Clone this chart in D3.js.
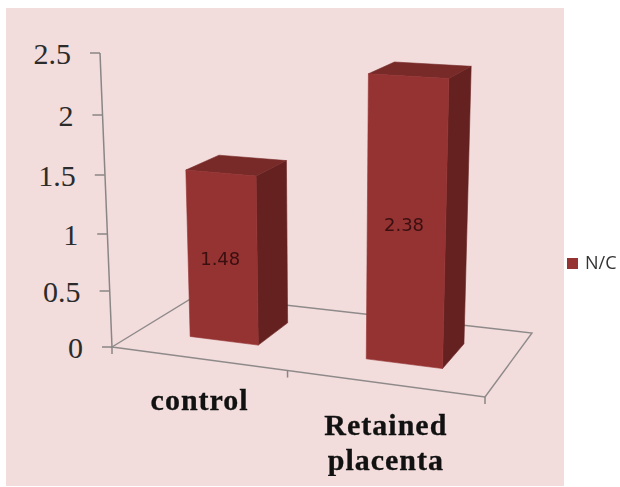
<!DOCTYPE html>
<html>
<head>
<meta charset="utf-8">
<script src="https://cdn.jsdelivr.net/npm/d3@7"></script>
<style>
  html, body { margin: 0; padding: 0; background: #fff; }
  svg { display: block; filter: blur(0.35px); }
  .floor { fill: none; stroke: #8f8a8a; stroke-width: 1.4; }
  .tick line, .axis-line { stroke: #8a8686; stroke-width: 1.5; }
</style>
</head>
<body>
<div id="chart"></div>
<script>
const categories = ["control", "Retained placenta"];
const values = [1.48, 2.38];
const yTicks = [0, 0.5, 1, 1.5, 2, 2.5];
const seriesName = "N/C";

const width = 620, height = 487;

const svg = d3.select("#chart").append("svg")
    .attr("width", width)
    .attr("height", height);

// pink panel behind the plot
svg.append("rect")
    .attr("x", 6).attr("y", 8)
    .attr("width", 558).attr("height", 478)
    .attr("fill", "#f2dcdc");

// value axis is foreshortened, so the ticks are not evenly spaced
const y = d3.scaleLinear().domain(yTicks).range([347, 291, 234, 175, 115, 53]);
const axisX = d3.scaleLinear().domain([0, 2.5]).range([112, 100]);

// category position along the floor (0..1)
const x = d3.scaleBand().domain(categories).range([0.004, 1.004])
    .paddingInner(0.6).paddingOuter(0.3);
const depth = d3.scaleLinear().domain([0, 1]).range([0.3, 0.7]); // bar depth on the floor

// floor plane: unit square to screen (fitted to the 4 floor corners)
const corners = [[112, 347], [485, 397], [532, 333], [197, 295]];
const floorMap = (function(p) {
    const sx = p[0][0] - p[1][0] + p[2][0] - p[3][0];
    const sy = p[0][1] - p[1][1] + p[2][1] - p[3][1];
    const dx1 = p[1][0] - p[2][0], dx2 = p[3][0] - p[2][0];
    const dy1 = p[1][1] - p[2][1], dy2 = p[3][1] - p[2][1];
    const den = dx1 * dy2 - dx2 * dy1;
    const g = (sx * dy2 - dx2 * sy) / den;
    const h = (dx1 * sy - sx * dy1) / den;
    const a = p[1][0] - p[0][0] + g * p[1][0];
    const b = p[3][0] - p[0][0] + h * p[3][0];
    const d = p[1][1] - p[0][1] + g * p[1][1];
    const e = p[3][1] - p[0][1] + h * p[3][1];
    return function(u, v) {
        const w = g * u + h * v + 1;
        return [(a * u + b * v + p[0][0]) / w, (d * u + e * v + p[0][1]) / w];
    };
})(corners);

// point at height val above floor point (u,v); verticals converge below the chart
function project(u, v, val) {
    const base = floorMap(u, v);
    const h = (y(0) - y(val)) * (1 + (base[1] - y(0)) * 0.0018);
    return [327 + (base[0] - 327) * (1 + 0.00019 * h), base[1] - h];
}

// floor outline
svg.append("path")
    .attr("class", "floor")
    .attr("d", d3.line()(corners) + "Z");

// x axis ticks hang off the front edge of the floor
svg.append("g").selectAll("line")
    .data(d3.range(categories.length + 1))
    .join("line")
    .attr("class", "axis-line")
    .attr("x1", d => floorMap(d * x.step(), 0)[0])
    .attr("y1", d => floorMap(d * x.step(), 0)[1])
    .attr("x2", d => floorMap(d * x.step(), 0)[0])
    .attr("y2", d => floorMap(d * x.step(), 0)[1] + 7);

// y axis, each tick pushed over to follow the slanted line
svg.append("line")
    .attr("class", "axis-line")
    .attr("x1", axisX(0)).attr("y1", y(0))
    .attr("x2", axisX(2.5)).attr("y2", y(2.5));

const yAxis = svg.append("g")
    .call(d3.axisLeft(y).tickValues(yTicks).tickFormat(d => d).tickSize(10).tickPadding(19));
yAxis.select(".domain").remove();
yAxis.selectAll(".tick")
    .attr("transform", d => `translate(${axisX(d)},${y(d)})`);
yAxis.selectAll("text")
    .attr("font-family", "'Liberation Serif', serif")
    .attr("font-size", 30)
    .attr("dy", "0.36em")
    .attr("fill", "#2b2b2b");

// bars
const poly = d3.line();
const bars = svg.append("g").selectAll("g")
    .data(categories.map((c, i) => ({ name: c, value: values[i] })))
    .join("g");

function face(g, color, pts) {
    g.append("path")
        .attr("fill", color)
        .attr("stroke", color)
        .attr("stroke-width", 0.6)
        .attr("d", poly(pts) + "Z");
}

bars.each(function(d) {
    const g = d3.select(this);
    const u0 = x(d.name), u1 = x(d.name) + x.bandwidth();
    const v0 = depth(0), v1 = depth(1);
    face(g, "#642120", [project(u1, v0, 0), project(u1, v1, 0), project(u1, v1, d.value), project(u1, v0, d.value)]);
    face(g, "#772a28", [project(u0, v0, d.value), project(u1, v0, d.value), project(u1, v1, d.value), project(u0, v1, d.value)]);
    face(g, "#953232", [project(u0, v0, 0), project(u1, v0, 0), project(u1, v0, d.value), project(u0, v0, d.value)]);
    const mid = project((u0 + u1) / 2, v0, d.value / 2);
    g.append("text")
        .attr("x", mid[0] - 2)
        .attr("y", mid[1])
        .attr("dy", "0.36em")
        .attr("text-anchor", "middle")
        .attr("font-family", "'DejaVu Sans', sans-serif")
        .attr("font-size", 18)
        .attr("fill", "#3a0f10")
        .text(d3.format(".2f")(d.value));
});

// category labels, wrapped on spaces
svg.append("g").selectAll("text")
    .data(categories)
    .join("text")
    .attr("text-anchor", "middle")
    .attr("font-family", "'Liberation Serif', serif")
    .attr("font-weight", "bold")
    .attr("font-size", 30)
    .attr("letter-spacing", 1)
    .attr("stroke", "#111")
    .attr("stroke-width", 0.3)
    .attr("fill", "#111")
    .each(function(d) {
        const p = floorMap(x(d) + x.bandwidth() / 2, 0);
        d3.select(this).selectAll("tspan")
            .data(d.split(" "))
            .join("tspan")
            .attr("x", p[0] + 1)
            .attr("y", (w, i) => p[1] + 51 + i * 35)
            .text(w => w);
    });

// legend sits outside the panel
svg.append("rect")
    .attr("x", 567).attr("y", 258)
    .attr("width", 11).attr("height", 11)
    .attr("fill", "#953232");
svg.append("text")
    .attr("x", 585).attr("y", 269)
    .attr("font-family", "'Open Sans', sans-serif")
    .attr("font-size", 18)
    .attr("fill", "#333")
    .text(seriesName);
</script>
</body>
</html>
